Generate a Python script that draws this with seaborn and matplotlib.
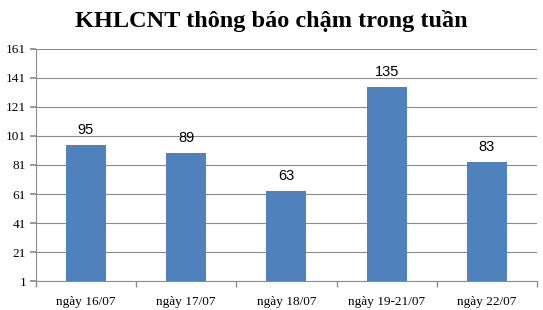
import matplotlib
matplotlib.use("Agg")
import matplotlib.pyplot as plt
import seaborn as sns
import numpy as np
import pandas as pd

categories = ["ngày 16/07", "ngày 17/07", "ngày 18/07", "ngày 19-21/07", "ngày 22/07"]
values = [95, 89, 63, 135, 83]
yticks = [1, 21, 41, 61, 81, 101, 121, 141, 161]

sns.set_theme(style="white")
plt.rcParams['font.family'] = ['Liberation Serif', 'DejaVu Serif']
plt.rcParams['text.color'] = 'black'
plt.rcParams['xtick.color'] = 'black'
plt.rcParams['ytick.color'] = 'black'

fig = plt.figure(figsize=(5.43, 3.10), dpi=100)
ax = fig.add_axes([0.066, 0.0935, 0.923, 0.7485])

df = pd.DataFrame({"cat": categories, "val": values})
sns.barplot(data=df, x="cat", y="val", color="#4F81BD", width=0.4, saturation=1,
            linewidth=0, ax=ax, zorder=3)

ax.set_ylim(1, 161)
ax.set_xlim(-0.5, 4.5)
ax.set_yticks(yticks)
ax.set_yticklabels([str(t) for t in yticks], fontsize=9.5)
ax.set_xlabel("")
ax.set_ylabel("")
ax.yaxis.grid(True, color="#8c8c8c", linewidth=0.8, zorder=0)
ax.set_axisbelow(True)
for s in ["top", "right"]:
    ax.spines[s].set_visible(False)
for s in ["left", "bottom"]:
    ax.spines[s].set_color("#8c8c8c")
    ax.spines[s].set_linewidth(0.8)

ax.tick_params(axis="y", which="major", left=True, length=4, color="#8c8c8c", labelcolor="black", pad=3)
ax.tick_params(axis="x", which="major", bottom=False, labelsize=9.5, labelcolor="black", pad=5)
ax.set_xticks(np.arange(-0.5, 5, 1), minor=True)
ax.tick_params(axis="x", which="minor", bottom=True, length=4, color="#8c8c8c")

for i, v in enumerate(values):
    ax.text(i, v + 5.5, str(v), ha="center", va="bottom", fontsize=10.5, color="black",
            family=["Liberation Sans", "DejaVu Sans"])

fig.text(0.5, 0.932, "KHLCNT thông báo chậm trong tuần", ha="center", va="center",
         fontsize=17.5, fontweight="bold", color="black")

fig.savefig("out.png", dpi=100)
